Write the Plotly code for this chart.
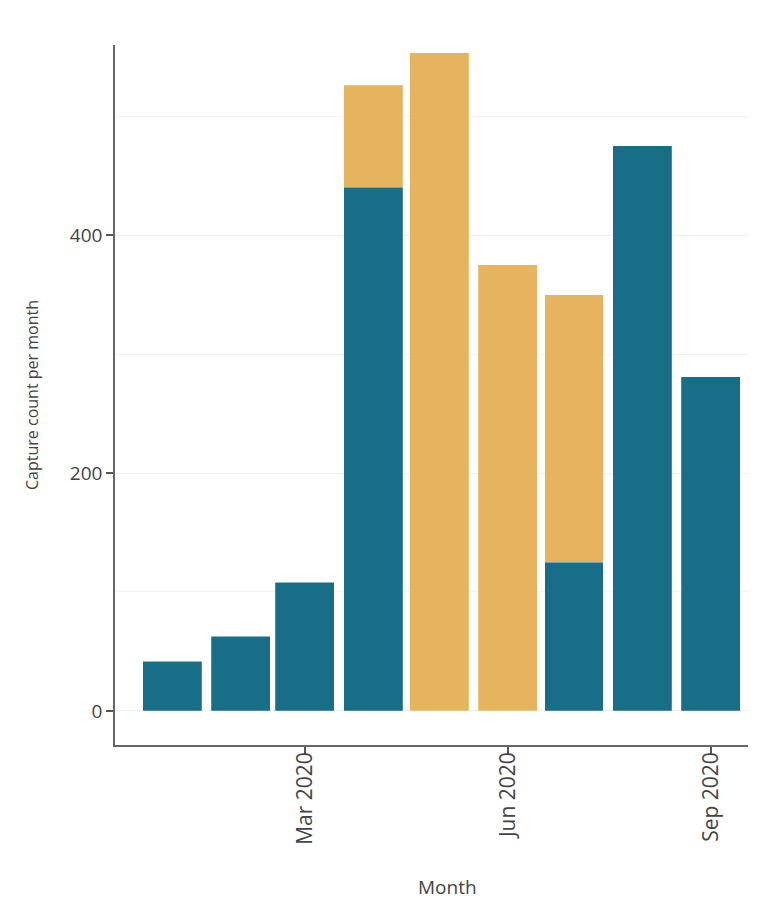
import plotly.graph_objects as go

months = ["2020-01-01", "2020-02-01", "2020-03-01", "2020-04-01", "2020-05-01",
          "2020-06-01", "2020-07-01", "2020-08-01", "2020-09-01"]
series_a = [42, 63, 108, 440, 0, 0, 125, 475, 281]
series_b = [0, 0, 0, 86, 553, 375, 225, 0, 0]
tick_vals = ["2020-03-01", "2020-06-01", "2020-09-01"]
tick_text = ["Mar 2020", "Jun 2020", "Sep 2020"]
y_ticks = [0, 200, 400]

TEAL = "#196E87"
GOLD = "#E6B45E"
DAY_MS = 24 * 3600 * 1000
bar_width = 26.7 * DAY_MS

fig = go.Figure()
fig.add_trace(go.Bar(x=months, y=series_a, name="Category A", marker_color=TEAL,
                     marker_line=dict(color="rgba(255,255,255,0.35)", width=0.6),
                     width=[bar_width] * len(months)))
fig.add_trace(go.Bar(x=months, y=series_b, name="Category B", marker_color=GOLD,
                     marker_line=dict(color="rgba(255,255,255,0.35)", width=0.6),
                     width=[bar_width] * len(months)))

font_family = "Open Sans, Noto Sans, sans-serif"
fig.update_layout(
    barmode="stack",
    width=773, height=923,
    margin=dict(l=107, r=33, t=37, b=186),
    plot_bgcolor="white", paper_bgcolor="white",
    showlegend=False,
    font=dict(family=font_family, color="#444444"),
    annotations=[dict(text="Month", x=0.526, y=-0.203, xref="paper", yref="paper",
                      xanchor="center", yanchor="middle", showarrow=False,
                      font=dict(size=19, color="#444444"))],
)
fig.update_xaxes(
    type="date",
    range=["2019-12-06", "2020-09-17 20:00"],
    tickvals=tick_vals, ticktext=tick_text,
    tickangle=-90,
    tickfont=dict(size=21, color="#444444"),
    ticks="outside", ticklen=7, tickcolor="#555555", tickwidth=1.5,
    ticklabelstandoff=-10,
    showline=True, linecolor="#666666", linewidth=1.6,
    showgrid=False, zeroline=False,
)
fig.update_yaxes(
    range=[-28.6, 559.7],
    tickvals=y_ticks,
    tickfont=dict(size=19, color="#444444"),
    ticks="outside", ticklen=7, tickcolor="#555555", tickwidth=1.5,
    showline=True, linecolor="#666666", linewidth=1.6,
    showgrid=True, gridcolor="#eeeeee", gridwidth=1,
    minor=dict(dtick=100, showgrid=True, gridcolor="#f2f2f2", gridwidth=1),
    zeroline=False,
    title=dict(text="Capture count per month", font=dict(size=16, color="#444444"), standoff=27),
)

fig.write_html("out.html")
